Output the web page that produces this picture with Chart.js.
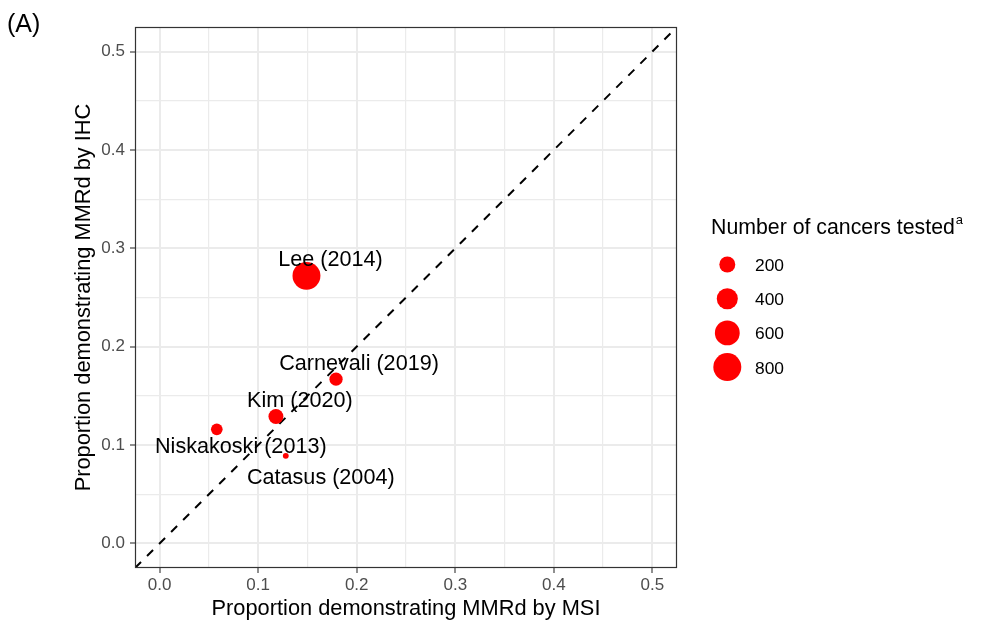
<!DOCTYPE html>
<html>
<head>
<meta charset="utf-8">
<script src="https://cdn.jsdelivr.net/npm/chart.js@4.4.1/dist/chart.umd.min.js"></script>
<style>
  html, body { margin: 0; padding: 0; background: #ffffff; }
  #wrap { width: 987px; height: 620px; position: relative; }
</style>
</head>
<body>
<div id="wrap"><canvas id="c" width="987" height="620"></canvas></div>
<script>
// ---- data ----
const studies = ['Lee (2014)', 'Carnevali (2019)', 'Kim (2020)', 'Niskakoski (2013)', 'Catasus (2004)'];
const msiProportion = [0.149, 0.179, 0.118, 0.058, 0.128];
const ihcProportion = [0.272, 0.167, 0.129, 0.116, 0.089];
const cancersTested = [796, 126, 170, 94, 42];
const sizeBreaks = [200, 400, 600, 800];
const sizeBreakLabels = ['200', '400', '600', '800'];
const majorTicks = [0, 0.1, 0.2, 0.3, 0.4, 0.5];
const majorTickLabels = ['0.0', '0.1', '0.2', '0.3', '0.4', '0.5'];
const minorTicks = [0.05, 0.15, 0.25, 0.35, 0.45];
const axisMin = -0.025, axisMax = 0.525;

// label placement (pixel offsets from the point, text anchored at centre/baseline)
const labelOffsets = [[24, -10], [23, -9], [24, -10], [24, 24], [35, 28]];

const FONT = "'Liberation Sans', Arial, Helvetica, sans-serif";
const nMin = Math.min(...cancersTested), nMax = Math.max(...cancersTested);
function radiusFor(n) {
  const f = Math.max(0, (n - nMin) / (nMax - nMin));
  const size = 1 + 5 * Math.sqrt(f);
  return 0.775 * (2.845 * size + 0.945);
}

const allTicks = majorTicks.concat(minorTicks).sort((a, b) => a - b);
function isMajor(v) { return majorTicks.some(m => Math.abs(m - v) < 1e-9); }
function tickLabel(v) {
  const i = majorTicks.findIndex(m => Math.abs(m - v) < 1e-9);
  return i >= 0 ? majorTickLabels[i] : '';
}

function axisCfg(which) {
  return {
    type: 'linear',
    min: axisMin, max: axisMax,
    afterBuildTicks: s => { s.ticks = allTicks.map(v => ({ value: v })); },
    afterFit: s => { if (which === 'y') s.width = 135; else s.height = 52; },
    border: { display: false },
    grid: {
      color: '#EBEBEB',
      lineWidth: c => (c.tick && isMajor(c.tick.value)) ? 2 : 1.2,
      drawTicks: true,
      tickLength: 5,
      tickWidth: 1.1,
      tickColor: c => (c.tick && isMajor(c.tick.value)) ? '#333333' : 'rgba(0,0,0,0)'
    },
    ticks: {
      autoSkip: false, maxRotation: 0, minRotation: 0,
      color: '#4D4D4D',
      font: { family: FONT, size: 17 },
      padding: which === 'y' ? 5 : 2,
      callback: v => tickLabel(v)
    }
  };
}

const decor = {
  id: 'decor',
  afterDraw(chart) {
    const ctx = chart.ctx, a = chart.chartArea;
    const xs = chart.scales.x, ys = chart.scales.y;
    ctx.save();
    // panel border
    ctx.strokeStyle = '#333333';
    ctx.lineWidth = 1.2;
    ctx.strokeRect(a.left + 0.5, a.top + 0.5, a.right - a.left - 1, a.bottom - a.top - 1);
    // point labels
    ctx.fillStyle = '#000000';
    ctx.font = '21.6px ' + FONT;
    ctx.textAlign = 'center';
    ctx.textBaseline = 'alphabetic';
    studies.forEach((s, i) => {
      const px = xs.getPixelForValue(msiProportion[i]);
      const py = ys.getPixelForValue(ihcProportion[i]);
      ctx.fillText(s, px + labelOffsets[i][0], py + labelOffsets[i][1]);
    });
    // axis titles
    ctx.font = '21.8px ' + FONT;
    ctx.fillText('Proportion demonstrating MMRd by MSI', (a.left + a.right) / 2, 615);
    ctx.save();
    ctx.translate(90, (a.top + a.bottom) / 2);
    ctx.rotate(-Math.PI / 2);
    ctx.fillText('Proportion demonstrating MMRd by IHC', 0, 0);
    ctx.restore();
    // panel tag
    ctx.textAlign = 'left';
    ctx.font = '25px ' + FONT;
    ctx.fillText('(A)', 7, 32);
    // legend
    ctx.font = '21.3px ' + FONT;
    const title = 'Number of cancers tested';
    ctx.fillText(title, 711, 234);
    const tw = ctx.measureText(title).width;
    ctx.font = '13px ' + FONT;
    ctx.fillText('a', 711 + tw + 1, 224);
    const keyY0 = 264.5, keyStep = 34.2, keyX = 727.3;
    ctx.font = '17.4px ' + FONT;
    sizeBreaks.forEach((b, i) => {
      const cy = keyY0 + i * keyStep;
      ctx.fillStyle = '#FF0000';
      ctx.beginPath();
      ctx.arc(keyX, cy, radiusFor(b), 0, Math.PI * 2);
      ctx.fill();
      ctx.fillStyle = '#000000';
      ctx.fillText(sizeBreakLabels[i], 755, cy + 6.5);
    });
    ctx.restore();
  }
};

new Chart(document.getElementById('c'), {
  data: {
    datasets: [
      {
        type: 'scatter',
        label: 'studies',
        data: studies.map((s, i) => ({ x: msiProportion[i], y: ihcProportion[i] })),
        backgroundColor: '#FF0000',
        borderWidth: 0,
        pointRadius: c => radiusFor(cancersTested[c.dataIndex]),
        pointHoverRadius: c => radiusFor(cancersTested[c.dataIndex]),
        order: 0
      },
      {
        type: 'line',
        label: 'identity',
        data: [{ x: axisMin, y: axisMin }, { x: axisMax, y: axisMax }],
        borderColor: '#000000',
        borderWidth: 2,
        borderDash: [8.5, 8.5],
        pointRadius: 0,
        fill: false,
        order: 1
      }
    ]
  },
  options: {
    responsive: false,
    animation: false,
    devicePixelRatio: 1,
    layout: { padding: { left: 0, top: 27, right: 310, bottom: 0 } },
    plugins: { legend: { display: false }, tooltip: { enabled: false } },
    scales: { x: axisCfg('x'), y: axisCfg('y') }
  },
  plugins: [decor]
});
</script>
</body>
</html>
